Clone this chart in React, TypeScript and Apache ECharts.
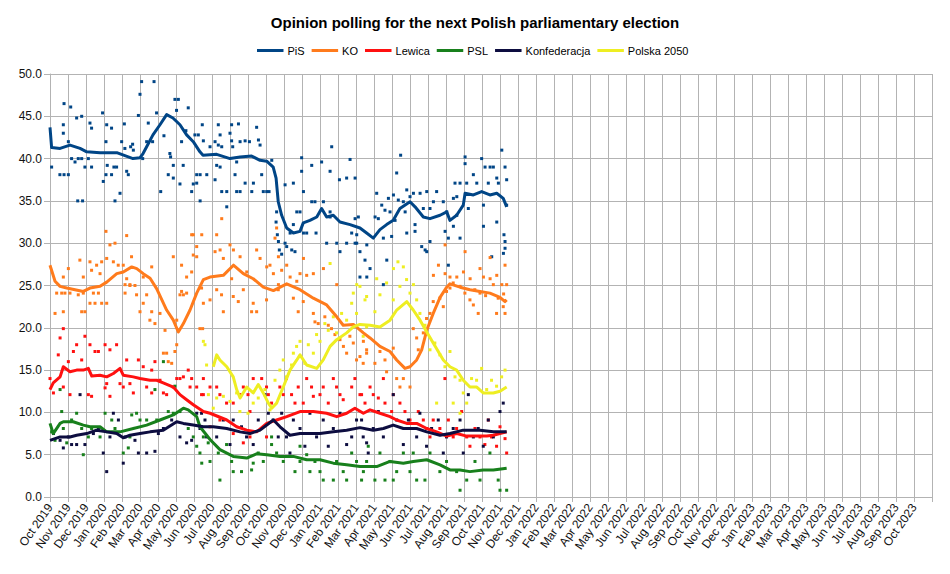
import React, { useEffect, useRef } from 'react';
import * as echarts from 'echarts';

// x values are month indices: 0 = start of Oct 2019, 1 = start of Nov 2019, ...
const months = [
  'Oct 2019', 'Nov 2019', 'Dec 2019', 'Jan 2020', 'Feb 2020', 'Mar 2020', 'Apr 2020', 'May 2020', 'Jun 2020',
  'Jul 2020', 'Aug 2020', 'Sep 2020', 'Oct 2020', 'Nov 2020', 'Dec 2020', 'Jan 2021', 'Feb 2021', 'Mar 2021',
  'Apr 2021', 'May 2021', 'Jun 2021', 'Jul 2021', 'Aug 2021', 'Sep 2021', 'Oct 2021', 'Nov 2021', 'Dec 2021',
  'Jan 2022', 'Feb 2022', 'Mar 2022', 'Apr 2022', 'May 2022', 'Jun 2022', 'Jul 2022', 'Aug 2022', 'Sep 2022',
  'Oct 2022', 'Nov 2022', 'Dec 2022', 'Jan 2023', 'Feb 2023', 'Mar 2023', 'Apr 2023', 'May 2023', 'Jun 2023',
  'Jul 2023', 'Aug 2023', 'Sep 2023', 'Oct 2023',
];

const yTicks = [0, 5, 10, 15, 20, 25, 30, 35, 40, 45, 50];

const partyNames = ['PiS', 'KO', 'Lewica', 'PSL', 'Konfederacja', 'Polska 2050'];
const partyColors = ['#004586', '#ff7b1c', '#ff1010', '#18801c', '#0d0d40', '#eeee22'];

// ---- trend lines (poll averages) ----
const pisTrend = [
  [0, 43.7], [0.09, 41.3], [0.56, 41.2], [1.11, 41.6], [1.67, 41.2], [2.04, 40.8], [2.78, 40.7], [3.71, 40.7],
  [4.61, 40.0], [5.0, 40.1], [5.17, 40.6], [5.37, 41.4], [5.72, 42.8], [6.11, 44.0], [6.48, 45.2], [6.83, 44.8],
  [7.22, 44.0], [7.59, 42.8], [7.96, 42.0], [8.33, 40.8], [8.5, 40.4], [9.26, 40.5], [10.0, 40.0], [10.56, 40.2],
  [11.2, 40.3], [11.67, 39.8], [12.04, 39.7], [12.4, 39.0], [12.56, 37.7], [12.68, 34.9], [12.87, 33.3],
  [13.15, 31.8], [13.52, 31.2], [13.89, 31.4], [14.07, 32.4], [14.44, 32.7], [14.82, 33.1], [15.09, 34.1],
  [15.37, 33.1], [15.74, 33.3], [16.11, 32.5], [16.67, 32.2], [17.22, 31.8], [17.59, 31.2], [17.96, 30.6],
  [18.33, 31.6], [18.7, 32.2], [19.07, 32.7], [19.44, 34.1], [20.0, 34.9], [20.28, 34.3], [20.74, 33.1],
  [21.11, 32.9], [21.67, 33.3], [22.04, 33.7], [22.22, 32.7], [22.59, 33.3], [22.96, 34.5], [23.06, 35.9],
  [23.52, 35.7], [23.98, 36.1], [24.44, 35.7], [24.82, 35.9], [25.18, 35.3], [25.37, 34.3],
];

const koTrend = [
  [0, 27.4], [0.28, 25.5], [0.56, 24.9], [0.93, 24.7], [1.85, 24.3], [2.22, 24.7], [2.78, 24.9], [3.15, 25.4],
  [3.71, 26.4], [4.07, 26.6], [4.54, 27.2], [4.82, 27.0], [5.18, 26.4], [5.56, 25.85], [5.93, 24.6],
  [6.48, 22.1], [6.85, 20.9], [7.13, 19.5], [7.41, 20.5], [7.78, 22.1], [8.15, 24.1], [8.52, 25.7],
  [8.89, 26.0], [9.63, 26.2], [10.19, 27.4], [10.74, 26.4], [11.29, 25.8], [11.85, 24.8], [12.41, 24.4],
  [13.15, 25.2], [13.89, 24.5], [14.63, 23.5], [15.37, 22.7], [15.93, 21.3], [16.29, 20.3], [16.85, 20.4],
  [17.41, 19.4], [17.78, 18.8], [18.33, 17.8], [18.89, 17.2], [19.26, 16.2], [19.72, 15.2], [20.0, 15.4],
  [20.37, 16.2], [20.65, 17.4], [20.93, 19.7], [21.29, 21.7], [21.67, 23.6], [22.04, 24.8], [22.22, 25.2],
  [22.78, 24.8], [23.33, 24.5], [23.89, 24.3], [24.44, 24.1], [25.0, 23.6], [25.28, 23.1], [25.37, 23.3],
];

const lewicaTrend = [
  [0, 12.7], [0.18, 13.5], [0.56, 14.2], [0.74, 15.4], [1.11, 14.8], [1.48, 15.0], [1.85, 15.0], [2.13, 15.2],
  [2.32, 14.3], [2.78, 14.4], [3.15, 14.2], [3.52, 14.6], [3.89, 15.2], [4.07, 14.4], [4.63, 14.2], [5.0, 14.0],
  [5.56, 13.8], [5.93, 13.8], [6.29, 13.5], [6.85, 13.0], [7.22, 12.1], [7.59, 11.5], [7.96, 10.9], [8.52, 10.1],
  [8.89, 9.9], [9.82, 9.1], [10.37, 8.3], [10.93, 7.9], [11.48, 7.7], [12.04, 8.7], [12.59, 9.1], [13.15, 9.5],
  [13.89, 10.1], [14.63, 10.1], [15.37, 9.9], [15.93, 9.5], [16.48, 9.9], [16.94, 10.5], [17.41, 9.9],
  [17.78, 10.3], [18.33, 9.9], [18.89, 9.5], [19.26, 9.1], [19.82, 8.7], [20.37, 8.7], [20.93, 8.1],
  [21.48, 7.7], [22.04, 7.2], [22.59, 7.5], [23.15, 7.2], [23.71, 7.2], [24.26, 7.2], [24.63, 7.3], [25.0, 7.5],
  [25.37, 7.7],
];

const pslTrend = [
  [0, 8.7], [0.18, 7.5], [0.56, 8.7], [0.74, 8.9], [1.29, 8.9], [1.85, 8.5], [2.22, 8.3], [2.78, 8.3],
  [3.15, 7.7], [3.89, 7.7], [4.63, 8.1], [5.37, 8.5], [6.11, 9.1], [6.85, 9.7], [7.41, 10.5], [7.68, 10.3],
  [8.15, 9.5], [8.33, 8.3], [8.89, 6.8], [9.44, 5.6], [10.18, 4.8], [10.93, 4.6], [11.48, 5.1], [12.04, 5.0],
  [12.78, 4.8], [13.52, 4.8], [14.26, 4.4], [15.0, 4.4], [15.74, 4.0], [16.48, 3.8], [17.22, 3.6], [18.15, 3.6],
  [18.89, 4.2], [19.63, 4.0], [20.18, 4.2], [20.93, 4.4], [21.67, 3.8], [22.22, 3.2], [22.78, 3.2], [23.33, 3.0],
  [24.07, 3.2], [24.63, 3.2], [25.37, 3.4],
];

const konfTrend = [
  [0, 6.7], [0.56, 7.1], [1.11, 7.1], [1.48, 7.3], [2.04, 7.5], [2.59, 7.9], [3.15, 7.7], [3.71, 7.5],
  [4.07, 7.0], [4.44, 7.3], [5.0, 7.5], [5.56, 7.7], [6.29, 7.9], [7.04, 8.9], [7.41, 8.7], [7.96, 8.5],
  [8.52, 8.3], [9.07, 8.3], [9.82, 8.1], [10.56, 7.7], [11.11, 7.5], [11.67, 7.9], [12.41, 9.1], [12.78, 8.3],
  [13.33, 7.3], [13.89, 7.5], [15.0, 7.5], [15.74, 7.7], [16.48, 7.9], [17.22, 8.2], [17.96, 7.9], [18.52, 8.1],
  [19.07, 8.5], [19.63, 8.1], [20.37, 8.1], [20.93, 7.7], [21.67, 7.3], [22.22, 7.5], [22.96, 7.9], [23.89, 7.9],
  [24.63, 7.7], [25.37, 7.7],
];

const p2050Trend = [
  [9.07, 15.4], [9.26, 16.8], [9.44, 16.2], [9.82, 15.4], [10.18, 14.2], [10.37, 12.7], [10.56, 11.7],
  [10.93, 13.0], [11.29, 12.3], [11.57, 13.3], [11.85, 12.3], [12.13, 11.1], [12.32, 10.5], [12.59, 11.1],
  [12.96, 13.0], [13.33, 15.0], [13.71, 16.2], [13.89, 16.8], [14.26, 15.6], [14.82, 15.2], [15.18, 16.2],
  [15.56, 17.8], [15.93, 18.6], [16.48, 19.4], [16.85, 20.1], [17.22, 20.4], [17.78, 20.3], [18.33, 20.1],
  [18.89, 20.9], [19.26, 22.1], [19.82, 23.1], [20.18, 22.1], [20.56, 20.9], [20.93, 19.5], [21.29, 18.2],
  [21.85, 16.2], [22.22, 15.4], [22.59, 15.0], [22.96, 13.8], [23.33, 13.0], [23.71, 13.0], [24.07, 12.3],
  [24.63, 12.3], [25.0, 12.5], [25.37, 13.0],
];

// ---- individual polls ----
const pisPolls = [
  [0.09, 39.0], [0.78, 46.5], [0.74, 44.0], [0.74, 43.0], [0.55, 38.1], [0.78, 38.1], [1.02, 38.1], [1.02, 42.0],
  [1.15, 46.1], [1.48, 44.8], [1.76, 45.0], [1.2, 40.0], [1.39, 39.6], [1.57, 40.0], [1.76, 40.0], [1.54, 35.0],
  [1.81, 35.0], [1.94, 39.0], [2.13, 40.0], [2.22, 44.2], [2.31, 43.6], [2.31, 39.0], [2.92, 45.4], [2.96, 37.3],
  [3.11, 42.0], [3.15, 44.0], [3.11, 38.1], [3.18, 39.2], [3.42, 43.6], [3.42, 38.1], [3.55, 39.0], [3.61, 35.0],
  [3.7, 39.0], [3.89, 35.9], [3.98, 42.0], [4.13, 44.1], [4.16, 41.2], [4.26, 38.5], [4.35, 38.1], [4.48, 41.4],
  [4.59, 41.7], [4.63, 41.0], [4.91, 45.1], [5.0, 47.6], [5.09, 49.1], [5.15, 40.0], [5.37, 42.0], [5.46, 44.2],
  [5.78, 49.1], [5.7, 42.0], [5.92, 45.4], [6.15, 36.1], [6.33, 42.7], [6.66, 40.6], [6.7, 40.2], [6.57, 38.1],
  [6.85, 37.7], [6.85, 39.2], [6.94, 47.0], [7.13, 47.0], [7.03, 45.7], [7.22, 37.0], [7.31, 42.0], [7.55, 43.3],
  [7.68, 46.0], [7.4, 39.2], [7.87, 36.1], [7.96, 37.0], [8.05, 42.8], [8.15, 38.1], [8.15, 37.1], [8.24, 42.8],
  [8.46, 44.0], [8.52, 42.1], [8.34, 38.1], [8.71, 38.1], [8.34, 35.0], [8.89, 41.4], [9.17, 42.0], [9.35, 44.0],
  [9.45, 42.8], [9.35, 41.6], [9.54, 41.4], [9.26, 39.2], [9.45, 39.0], [9.17, 37.5], [9.54, 36.1], [9.82, 36.1],
  [9.82, 34.3], [10.0, 43.0], [10.09, 44.0], [10.09, 42.1], [10.15, 41.4], [10.47, 44.1], [10.56, 42.0],
  [10.37, 39.6], [10.37, 36.1], [10.56, 36.1], [10.28, 38.1], [10.84, 42.1], [11.08, 42.0], [10.84, 37.1],
  [11.3, 37.1], [11.21, 36.1], [11.48, 43.7], [11.58, 42.2], [11.67, 41.6], [11.76, 38.1], [11.85, 36.1],
  [12.04, 36.1], [12.17, 36.1], [12.32, 39.8], [12.59, 33.7], [12.56, 32.5], [12.63, 31.0], [12.69, 30.2],
  [12.74, 29.2], [12.87, 28.7], [13.06, 36.9], [13.06, 30.0], [13.15, 29.6], [13.34, 31.2], [13.52, 32.2],
  [13.52, 37.1], [13.43, 29.2], [13.61, 29.0], [13.71, 33.7], [13.98, 40.1], [13.98, 38.5], [14.08, 36.1],
  [13.89, 33.7], [14.08, 31.2], [14.26, 31.2], [14.54, 39.2], [14.54, 34.9], [14.72, 34.9], [14.78, 31.2],
  [15.09, 39.6], [15.19, 34.9], [15.37, 30.0], [15.56, 38.5], [15.56, 33.7], [15.56, 33.1], [15.65, 41.4],
  [15.93, 30.0], [16.11, 29.0], [16.08, 37.5], [16.48, 37.7], [16.48, 30.0], [16.67, 39.9], [16.95, 37.7],
  [16.76, 31.2], [17.04, 30.0], [17.13, 33.1], [16.95, 32.9], [17.04, 31.0], [16.95, 30.0], [17.22, 29.0],
  [17.5, 28.0], [17.6, 29.8], [17.22, 26.0], [17.6, 26.0], [17.78, 27.0], [18.15, 35.9], [18.06, 33.1],
  [18.24, 32.9], [18.43, 34.5], [18.61, 33.9], [18.52, 30.6], [18.71, 28.0], [18.52, 25.1], [18.8, 35.3],
  [18.89, 33.7], [18.98, 30.8], [19.08, 35.7], [19.17, 32.7], [19.26, 38.3], [19.48, 40.4], [19.35, 35.1],
  [19.63, 34.9], [19.82, 36.3], [19.73, 33.7], [19.82, 31.2], [20.0, 35.5], [20.19, 35.9], [20.28, 32.2],
  [20.28, 31.4], [20.56, 35.9], [20.74, 34.1], [20.65, 29.6], [20.84, 29.2], [20.93, 36.1], [20.93, 29.0],
  [21.11, 34.1], [21.3, 34.9], [21.48, 36.1], [21.11, 30.2], [21.85, 34.9], [21.95, 31.4], [22.04, 33.7],
  [22.13, 30.6], [22.13, 27.4], [22.41, 35.3], [22.41, 32.0], [22.6, 35.5], [22.6, 33.3], [22.78, 30.6],
  [22.5, 37.1], [22.78, 37.1], [23.06, 40.2], [23.06, 39.4], [23.15, 37.1], [23.24, 34.1], [23.52, 38.1],
  [23.71, 37.1], [23.98, 40.0], [24.08, 34.5], [24.08, 32.0], [24.17, 39.0], [24.45, 39.0], [24.63, 39.0],
  [24.35, 37.1], [24.82, 37.7], [24.91, 37.1], [24.54, 28.4], [24.82, 32.5], [25.1, 41.0], [25.28, 39.0],
  [25.37, 37.5], [25.37, 34.5], [25.22, 31.0], [25.28, 30.2], [25.28, 29.4], [25.19, 28.8],
];

const koPolls = [
  [3.11, 31.4], [3.33, 29.8], [3.61, 30.0], [4.26, 30.9], [4.53, 28.4], [4.26, 25.8], [4.44, 25.0], [4.72, 25.0],
  [5.18, 26.0], [5.65, 27.2], [6.85, 28.4], [7.31, 27.4], [7.59, 26.0], [7.87, 31.0], [7.96, 28.6], [8.15, 29.6],
  [3.15, 28.2], [2.87, 27.8], [2.59, 27.4], [2.22, 27.8], [2.31, 26.8], [1.66, 28.0], [1.02, 27.0], [0.74, 26.0],
  [1.85, 26.0], [2.78, 26.4], [3.79, 27.4], [4.07, 27.4], [3.52, 27.8], [0.37, 24.1], [0.65, 24.1], [0.83, 24.1],
  [0.28, 21.7], [0.74, 21.9], [1.11, 24.1], [1.57, 23.9], [1.85, 24.1], [1.76, 21.9], [1.94, 21.9], [2.22, 22.9],
  [2.5, 22.9], [2.41, 24.1], [2.69, 24.1], [2.87, 22.9], [3.15, 22.9], [4.17, 25.1], [4.17, 24.1], [4.44, 25.1],
  [4.81, 23.9], [5.0, 21.9], [5.18, 22.9], [5.37, 23.9], [5.55, 20.9], [5.65, 21.9], [5.83, 20.5], [6.11, 21.7],
  [6.39, 19.7], [6.3, 17.0], [6.48, 17.0], [6.57, 16.0], [6.76, 15.8], [6.94, 17.2], [7.04, 18.0], [7.22, 23.9],
  [7.31, 24.3], [7.41, 23.9], [7.59, 24.1], [7.04, 20.9], [8.33, 19.9], [8.48, 19.9], [9.54, 32.9], [7.96, 31.0],
  [8.43, 31.0], [9.26, 31.0], [9.45, 29.2], [8.15, 28.4], [7.87, 26.6], [9.17, 29.0], [10.0, 29.8], [10.19, 29.2],
  [9.63, 28.2], [10.09, 25.8], [10.56, 28.4], [10.93, 26.6], [11.48, 29.2], [11.67, 28.2], [12.04, 27.2],
  [12.22, 27.4], [12.59, 31.8], [12.5, 30.6], [12.69, 28.4], [12.41, 26.4], [12.87, 26.8], [13.15, 27.4],
  [13.34, 26.0], [12.69, 25.1], [13.71, 25.5], [14.08, 28.2], [13.89, 26.4], [14.26, 26.2], [14.63, 26.4],
  [15.19, 27.0], [15.93, 25.1], [8.42, 24.7], [9.26, 24.5], [9.53, 23.9], [8.52, 22.9], [8.89, 23.3],
  [9.63, 21.9], [10.18, 23.7], [10.46, 23.1], [10.74, 24.5], [11.29, 22.9], [11.48, 21.9], [11.2, 21.9],
  [12.03, 23.3], [12.68, 24.5], [13.52, 23.5], [13.79, 21.9], [14.07, 23.1], [14.63, 21.7], [14.72, 20.7],
  [14.9, 20.5], [15.27, 21.3], [15.46, 20.3], [15.64, 19.9], [15.83, 19.2], [16.11, 18.6], [16.3, 17.8],
  [16.48, 17.0], [16.66, 19.0], [16.85, 18.2], [17.03, 16.2], [17.22, 16.6], [17.4, 15.8], [17.59, 17.4],
  [17.41, 18.4], [17.59, 17.0], [18.05, 15.8], [18.33, 17.2], [18.61, 16.2], [18.7, 14.8], [19.07, 17.6],
  [19.26, 14.0], [19.63, 14.0], [19.44, 13.0], [20.0, 13.0], [20.18, 19.9], [20.37, 18.8], [20.46, 17.4],
  [20.74, 19.4], [20.92, 21.1], [21.11, 21.7], [21.29, 23.1], [21.66, 23.5], [21.85, 22.5], [22.03, 24.3],
  [22.22, 24.7], [22.4, 25.3], [22.78, 24.9], [23.05, 24.1], [23.33, 23.3], [23.52, 22.7], [23.79, 21.7],
  [23.89, 24.1], [24.63, 25.1], [24.81, 21.7], [25.18, 22.5], [25.28, 21.7], [21.95, 29.8], [21.58, 27.4],
  [21.3, 26.2], [21.95, 26.4], [22.22, 26.0], [22.6, 26.0], [22.97, 26.6], [23.06, 29.0], [23.34, 25.8],
  [23.89, 27.0], [24.08, 26.0], [24.45, 25.8], [24.82, 26.2], [25.1, 25.1], [25.28, 27.4], [25.37, 25.1],
  [23.6, 24.5], [24.2, 23.8], [24.9, 23.5], [25.2, 24.0], [24.45, 28.3],
];

const lewicaPolls = [
  [0.0, 14.0], [0.19, 12.3], [0.46, 16.8], [0.56, 18.8], [0.74, 19.9], [0.74, 13.0], [1.02, 16.0], [1.3, 17.2],
  [1.11, 12.1], [1.48, 18.0], [1.76, 16.2], [1.94, 19.0], [2.22, 18.0], [2.5, 17.2], [2.13, 12.1], [2.31, 11.9],
  [2.69, 17.2], [3.06, 18.0], [3.15, 13.4], [3.06, 12.9], [3.33, 11.9], [3.33, 17.4], [3.7, 18.0], [3.89, 13.4],
  [4.07, 13.0], [4.26, 16.2], [4.44, 13.4], [4.63, 12.3], [4.91, 16.2], [5.18, 15.4], [5.37, 13.0], [5.65, 15.0],
  [5.65, 12.3], [5.83, 16.0], [6.11, 13.8], [6.3, 12.3], [6.48, 12.1], [6.85, 13.0], [7.04, 14.0], [7.22, 14.0],
  [7.41, 14.2], [7.68, 15.0], [7.78, 13.0], [7.87, 14.0], [8.52, 14.0], [8.15, 13.0], [8.52, 12.1], [8.89, 13.0],
  [9.26, 13.0], [8.42, 12.1], [9.44, 12.1], [9.81, 11.1], [10.18, 11.1], [10.55, 12.1], [10.74, 13.0],
  [11.0, 12.1], [11.11, 10.1], [11.29, 14.0], [11.76, 14.0], [12.03, 13.0], [12.13, 12.1], [12.31, 11.1],
  [12.77, 13.0], [12.96, 12.1], [13.14, 14.0], [13.42, 12.1], [13.61, 11.1], [13.79, 13.0], [14.07, 11.1],
  [14.26, 14.0], [14.53, 13.0], [14.63, 11.9], [15.0, 12.1], [15.18, 13.0], [15.46, 11.1], [15.74, 14.0],
  [15.92, 13.0], [16.11, 12.1], [16.29, 11.5], [16.76, 13.0], [16.94, 14.0], [17.22, 12.1], [17.5, 11.1],
  [9.44, 9.1], [10.18, 7.5], [10.74, 6.4], [11.11, 7.1], [8.89, 8.3], [12.03, 7.1], [17.31, 12.1], [17.78, 13.0],
  [17.96, 12.1], [18.24, 11.7], [18.61, 11.1], [18.52, 14.0], [19.07, 12.1], [18.98, 10.1], [19.44, 11.1],
  [19.72, 10.1], [20.0, 9.1], [20.18, 8.1], [20.46, 10.1], [20.74, 9.1], [20.92, 8.1], [21.11, 7.1], [21.29, 9.1],
  [21.66, 8.1], [21.94, 14.0], [22.13, 9.1], [22.4, 7.1], [22.59, 8.1], [22.87, 10.1], [23.15, 7.1], [23.33, 6.0],
  [23.61, 8.1], [23.89, 7.1], [24.16, 6.2], [24.35, 9.1], [24.53, 7.1], [24.81, 6.0], [25.0, 8.3], [25.28, 6.9],
  [25.37, 5.2],
];

const pslPolls = [
  [0.09, 7.7], [0.28, 6.7], [0.56, 12.7], [0.65, 10.1], [0.74, 8.1], [0.93, 6.4], [1.2, 9.1], [1.48, 9.9],
  [1.76, 8.1], [1.85, 5.0], [2.13, 7.1], [2.31, 8.1], [2.78, 7.1], [3.06, 9.9], [3.43, 9.1], [3.61, 8.1],
  [4.07, 5.2], [4.35, 5.8], [4.44, 7.1], [4.54, 9.7], [4.81, 9.9], [5.0, 9.1], [5.37, 9.1], [5.83, 12.7],
  [5.93, 9.1], [6.3, 16.0], [6.57, 10.1], [6.85, 9.9], [6.94, 13.1], [7.22, 10.1], [7.68, 8.1], [7.96, 7.1],
  [8.15, 6.0], [8.33, 5.2], [8.43, 4.0], [8.52, 7.1], [8.79, 6.4], [8.89, 4.2], [9.35, 5.2], [9.81, 6.2],
  [10.09, 4.2], [10.18, 3.0], [10.64, 3.0], [11.2, 3.2], [11.29, 4.0], [9.44, 2.0], [11.57, 5.2], [11.85, 4.2],
  [12.31, 7.1], [12.31, 6.2], [12.59, 5.2], [12.96, 4.2], [13.61, 3.0], [13.89, 6.0], [13.89, 4.2], [14.26, 5.0],
  [14.44, 3.0], [14.72, 4.2], [15.0, 3.0], [15.18, 2.0], [15.74, 2.0], [15.92, 4.2], [16.29, 3.0], [16.48, 2.0],
  [16.76, 5.2], [17.03, 4.2], [17.31, 2.0], [17.68, 6.0], [17.41, 3.0], [17.59, 4.2], [18.05, 2.0], [18.33, 5.2],
  [18.61, 2.0], [18.89, 4.2], [19.07, 2.0], [19.26, 3.0], [19.63, 5.2], [20.0, 3.0], [20.18, 5.2], [20.37, 2.0],
  [20.83, 2.0], [21.11, 5.2], [21.66, 3.0], [22.03, 4.2], [22.59, 3.0], [22.78, 0.8], [23.15, 2.0], [23.61, 4.2],
  [23.89, 2.0], [24.44, 5.2], [24.9, 2.0], [25.0, 0.8], [25.37, 0.8],
];

const konfPolls = [
  [0.19, 7.5], [0.56, 6.7], [0.74, 5.8], [1.02, 7.1], [1.2, 6.2], [1.48, 6.2], [1.67, 12.1], [1.94, 6.2],
  [2.41, 7.5], [2.69, 8.1], [2.96, 5.2], [3.15, 3.0], [3.33, 7.1], [3.52, 9.9], [3.8, 9.1], [4.07, 4.0],
  [4.17, 7.1], [4.72, 6.7], [4.91, 5.2], [5.37, 5.2], [5.83, 5.4], [6.02, 7.5], [6.3, 8.1], [6.76, 9.1],
  [7.22, 7.1], [7.59, 6.4], [7.87, 6.7], [8.15, 9.9], [8.33, 8.1], [8.7, 7.1], [8.42, 9.9], [8.61, 9.1],
  [9.26, 7.1], [9.63, 9.1], [10.0, 6.2], [10.18, 9.1], [10.64, 8.3], [10.92, 7.1], [11.29, 6.2], [11.57, 9.1],
  [11.94, 12.1], [12.13, 9.9], [12.4, 9.1], [12.68, 7.1], [12.87, 9.9], [13.14, 7.1], [13.33, 5.2], [13.52, 9.1],
  [13.89, 8.1], [14.16, 6.0], [14.44, 9.9], [14.81, 7.1], [15.18, 9.1], [15.46, 6.0], [15.74, 8.1], [16.11, 9.9],
  [16.48, 6.2], [16.76, 7.1], [17.03, 9.1], [17.4, 7.1], [17.68, 5.2], [17.31, 9.1], [17.59, 6.4], [17.96, 8.1],
  [18.24, 10.1], [18.52, 7.1], [19.07, 12.1], [19.26, 9.1], [19.63, 6.2], [19.91, 9.1], [20.37, 7.1], [20.55, 9.9],
  [20.92, 6.0], [21.2, 8.1], [21.57, 9.1], [21.85, 5.2], [22.03, 7.1], [22.4, 8.1], [22.78, 9.1], [22.96, 5.2],
  [23.24, 12.1], [23.52, 7.1], [23.79, 8.1], [24.07, 6.0], [24.35, 9.1], [24.63, 7.1], [25.0, 10.1], [25.18, 11.1],
];

const p2050Polls = [
  [8.52, 18.4], [8.8, 12.1], [8.61, 18.0], [8.7, 15.6], [9.26, 11.7], [9.63, 11.9], [9.07, 10.5], [10.0, 11.3],
  [10.37, 12.3], [10.55, 10.1], [11.0, 9.9], [11.29, 11.1], [11.57, 11.7], [11.94, 12.7], [12.22, 10.3],
  [12.5, 13.8], [12.77, 15.0], [12.96, 16.2], [13.14, 14.2], [13.42, 15.6], [13.52, 17.0], [13.7, 17.8],
  [13.89, 18.4], [14.16, 15.8], [14.35, 18.0], [14.63, 17.0], [14.81, 19.2], [15.0, 18.4], [15.27, 20.5],
  [15.46, 19.7], [15.74, 21.3], [15.92, 19.4], [16.2, 21.7], [16.48, 20.9], [16.76, 22.9], [16.85, 24.1],
  [17.03, 21.7], [17.22, 24.9], [17.5, 23.3], [17.59, 20.1], [17.4, 19.0], [17.59, 23.7], [18.05, 21.9],
  [18.33, 23.9], [18.7, 25.3], [19.07, 23.3], [19.44, 24.9], [19.81, 25.7], [20.0, 24.1], [20.37, 23.3],
  [20.55, 21.7], [20.83, 20.3], [21.11, 17.4], [21.38, 18.2], [21.66, 16.8], [21.94, 15.4], [22.22, 17.2],
  [22.5, 14.2], [22.78, 13.8], [22.96, 12.3], [23.15, 11.1], [23.42, 14.0], [23.7, 13.8], [23.98, 15.2],
  [24.26, 12.7], [24.53, 13.8], [24.81, 13.1], [25.09, 14.2], [25.28, 15.0], [22.78, 9.9], [22.4, 11.1],
  [21.48, 11.1], [17.04, 25.1], [18.15, 25.8], [19.08, 27.0], [19.63, 27.2], [20.19, 25.1], [15.56, 27.6],
  [19.33, 27.8],
];

const trends = [pisTrend, koTrend, lewicaTrend, pslTrend, konfTrend, p2050Trend];
const polls = [pisPolls, koPolls, lewicaPolls, pslPolls, konfPolls, p2050Polls];

const FONT = '"Liberation Sans", Arial, sans-serif';
const GRID = '#b3b3b3';

export default function App() {
  const ref = useRef<HTMLDivElement>(null);

  useEffect(() => {
    if (!ref.current) return;
    const chart = echarts.init(ref.current, null, { renderer: 'svg' });

    const scatterSeries = partyNames.map((name, i) => ({
      name,
      type: 'scatter',
      data: polls[i],
      symbol: 'rect',
      symbolSize: 3,
      itemStyle: { color: partyColors[i], opacity: 1 },
      z: 2,
      silent: true,
    }));
    const lineSeries = partyNames.map((name, i) => ({
      name,
      type: 'line',
      data: trends[i],
      showSymbol: false,
      symbol: 'none',
      lineStyle: { color: partyColors[i], width: 3, join: 'round' },
      itemStyle: { color: partyColors[i] },
      z: 3,
      silent: true,
    }));

    chart.setOption({
      animation: false,
      backgroundColor: '#ffffff',
      title: {
        text: 'Opinion polling for the next Polish parliamentary election',
        left: 'center',
        top: 10,
        textStyle: { fontFamily: FONT, fontSize: 15, fontWeight: 'bold', color: '#000' },
      },
      legend: {
        top: 40,
        left: 252,
        icon: 'rect',
        itemWidth: 26.5,
        itemHeight: 3,
        itemGap: 7,
        data: partyNames,
        textStyle: { fontFamily: FONT, fontSize: 11, color: '#000', padding: [0, 0, 0, -1] },
      },
      grid: { left: 50, right: 18, top: 74, bottom: 77, containLabel: false },
      xAxis: {
        type: 'value',
        min: 0,
        max: months.length,
        interval: 1,
        axisLine: { show: true, lineStyle: { color: GRID, width: 1 } },
        axisTick: { show: true, length: 5, lineStyle: { color: GRID } },
        splitLine: { show: true, lineStyle: { color: GRID, width: 1 } },
        axisLabel: {
          rotate: 55,
          margin: 8,
          fontFamily: FONT,
          fontSize: 12,
          color: '#111',
          formatter: (v: number) => months[Math.round(v)] ?? '',
        },
      },
      yAxis: {
        type: 'value',
        min: yTicks[0],
        max: yTicks[yTicks.length - 1],
        interval: 5,
        axisLine: { show: true, lineStyle: { color: GRID, width: 1 } },
        axisTick: { show: true, length: 6, lineStyle: { color: GRID } },
        splitLine: { show: true, lineStyle: { color: GRID, width: 1 } },
        axisLabel: {
          margin: 8,
          fontFamily: FONT,
          fontSize: 12,
          color: '#111',
          formatter: (v: number) => v.toFixed(1),
        },
      },
      series: [...scatterSeries, ...lineSeries],
    });

    return () => chart.dispose();
  }, []);

  return (
    <div
      ref={ref}
      style={{ position: 'fixed', left: 0, top: 0, width: 950, height: 574, background: '#fff' }}
    />
  );
}
